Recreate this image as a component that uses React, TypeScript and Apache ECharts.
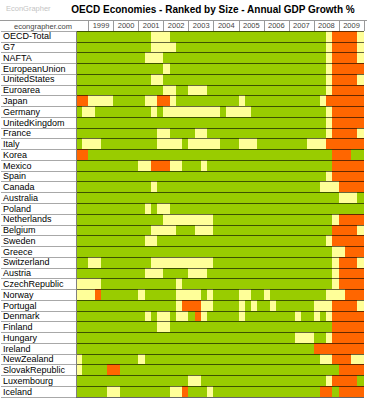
import React, { useEffect, useRef } from "react";
import * as echarts from "echarts";

const countries = [
  "OECD-Total", "G7", "NAFTA", "EuropeanUnion", "UnitedStates", "Euroarea",
  "Japan", "Germany", "UnitedKingdom", "France", "Italy", "Korea", "Mexico",
  "Spain", "Canada", "Australia", "Poland", "Netherlands", "Belgium", "Sweden",
  "Greece", "Switzerland", "Austria", "CzechRepublic", "Norway", "Portugal",
  "Denmark", "Finland", "Hungary", "Ireland", "NewZealand", "SlovakRepublic",
  "Luxembourg", "Iceland",
];

const years = [1999, 2000, 2001, 2002, 2003, 2004, 2005, 2006, 2007, 2008, 2009];

// quarters shown: 1998Q3 .. 2009Q4
const quarters: string[] = [];
for (let y = 1998; y <= 2009; y++) {
  for (let q = 1; q <= 4; q++) {
    if (y === 1998 && q < 3) continue;
    quarters.push(`${y}Q${q}`);
  }
}

// Growth band per quarter, run-length per country (G = growth, Y = weak growth, O = contraction)
const growthBandRuns = [
  "12G 3Y 25G 1Y 4O 1Y",
  "12G 4Y 24G 1Y 4O 1Y",
  "11G 3Y 26G 1Y 4O 1Y",
  "14G 1Y 25G 1Y 5O",
  "12G 2Y 26G 1Y 4O 1Y",
  "14G 2Y 2G 3Y 19G 1Y 5O",
  "2O 4Y 5G 2Y 2O 1Y 10G 1Y 12G 1Y 6O",
  "1G 2Y 9G 1Y 1G 9Y 1G 4Y 12G 1Y 5O",
  "40G 1Y 5O",
  "13G 2Y 4G 2Y 19G 1Y 4O 1Y",
  "1G 3Y 9G 4Y 1G 5Y 3G 3Y 8G 3Y 6O",
  "2O 39G 3O 2G",
  "10G 2Y 3O 2Y 3G 1Y 20G 5O",
  "40G 1Y 5O",
  "12G 1Y 26G 3Y 4O",
  "42G 3Y 1G",
  "11G 1Y 1G 2Y 31G",
  "14G 8Y 19G 1Y 4O",
  "12G 4Y 3G 3Y 19G 4O 1Y",
  "11G 2Y 27G 1Y 5O",
  "41G 2Y 3O",
  "2G 2Y 8G 10Y 19G 1Y 3O 1Y",
  "11G 3Y 4G 3Y 20G 1Y 4O",
  "4Y 12G 1Y 24G 1Y 4O",
  "3Y 1O 6G 1Y 5G 4Y 1G 1Y 4G 2Y 2G 1Y 9G 3Y 3O",
  "16G 1Y 3O 2Y 4G 1Y 1G 1Y 2G 1Y 6G 3Y 4O 1Y",
  "11G 1Y 1G 2Y 1G 2Y 1G 1O 1Y 5G 1Y 8G 1Y 2G 1Y 1G 1Y 5O",
  "13G 2Y 26G 5O",
  "35G 3Y 2G 1Y 5O",
  "38G 8O",
  "1Y 9G 1Y 28G 2Y 3O 2Y",
  "1Y 4G 2O 35G 4O",
  "18G 2Y 20G 1Y 4O 1G",
  "5G 2Y 8G 2Y 1O 3G 1Y 17G 2O 1G 4O",
];

const bandLevels: Record<string, number> = { O: 0, Y: 1, G: 2 };
const bandColors = ["#FF6600", "#FFFF99", "#99CC00"];

function expandRuns(runs: string): number[] {
  const out: number[] = [];
  const re = /(\d+)([GYO])/g;
  let m: RegExpExecArray | null;
  while ((m = re.exec(runs))) {
    for (let i = 0; i < parseInt(m[1], 10); i++) out.push(bandLevels[m[2]]);
  }
  return out;
}

export default function App() {
  const ref = useRef<HTMLDivElement>(null);

  useEffect(() => {
    if (!ref.current) return;
    const chart = echarts.init(ref.current, undefined, { renderer: "svg" });

    const data: number[][] = [];
    growthBandRuns.forEach((runs, r) => {
      expandRuns(runs).forEach((v, c) => data.push([c, r, v]));
    });

    const font = "Arial, 'Liberation Sans', sans-serif";

    chart.setOption({
      animation: false,
      backgroundColor: "#ffffff",
      grid: { left: 75, right: 0, top: 31, bottom: 3, containLabel: false },
      xAxis: [
        {
          type: "category",
          data: quarters,
          position: "top",
          axisLine: { show: false },
          axisLabel: { show: false },
          splitLine: { show: false },
          axisTick: {
            show: true,
            inside: false,
            length: 11,
            interval: (i: number) => i % 4 === 2,
            lineStyle: { color: "#9a9a9a", width: 1 },
          },
        },
        {
          type: "value",
          position: "top",
          min: 1998.5,
          max: 2010,
          interval: 1,
          axisLine: { show: false },
          axisTick: { show: false },
          splitLine: { show: false },
          axisLabel: {
            show: true,
            margin: 2,
            fontSize: 7.5,
            fontFamily: font,
            color: "#444",
            formatter: (v: number) => {
              const y = Math.floor(v);
              return v - y === 0.5 && years.indexOf(y) >= 0 ? String(y) : "";
            },
          },
        },
      ],
      yAxis: {
        type: "category",
        data: countries,
        inverse: true,
        z: 5,
        axisLine: { show: true, lineStyle: { color: "#808080", width: 1 } },
        axisTick: {
          show: true,
          interval: 0,
          length: 75,
          lineStyle: { color: "#a8a8a8", width: 1 },
        },
        splitLine: {
          show: true,
          interval: 0,
          lineStyle: { color: "rgba(0,0,0,0.6)", width: 1 },
        },
        axisLabel: {
          interval: 0,
          align: "left",
          margin: 73,
          fontSize: 9,
          fontFamily: font,
          color: "#000",
        },
      },
      visualMap: {
        type: "piecewise",
        show: false,
        dimension: 2,
        pieces: [
          { value: 0, color: bandColors[0] },
          { value: 1, color: bandColors[1] },
          { value: 2, color: bandColors[2] },
        ],
      },
      series: [
        {
          type: "heatmap",
          xAxisIndex: 0,
          yAxisIndex: 0,
          data,
          progressive: 0,
          itemStyle: { borderWidth: 0 },
          emphasis: { disabled: true },
        },
      ],
      graphic: [
        {
          type: "text",
          left: 6,
          top: 4,
          style: { text: "EconGrapher", fontSize: 7.5, fontFamily: font, fill: "#c4c4c4" },
        },
        {
          type: "text",
          x: 213,
          y: 9,
          style: {
            text: "OECD Economies - Ranked by Size - Annual GDP Growth %",
            fontSize: 10,
            fontWeight: "bold",
            fontFamily: font,
            fill: "#000",
            align: "center",
            verticalAlign: "middle",
          },
        },
        {
          type: "line",
          shape: { x1: 0, y1: 20.5, x2: 367, y2: 20.5 },
          style: { stroke: "#9a9a9a", lineWidth: 1 },
        },
        {
          type: "text",
          x: 43,
          y: 26,
          style: {
            text: "econgrapher.com",
            fontSize: 7.5,
            fontFamily: font,
            fill: "#444",
            align: "center",
            verticalAlign: "middle",
          },
        },
      ],
    });

    return () => chart.dispose();
  }, []);

  return (
    <>
      <style>{"#econ-chart svg path { shape-rendering: crispEdges; }"}</style>
      <div
        id="econ-chart"
        ref={ref}
        style={{ position: "fixed", left: 0, top: 0, width: 367, height: 400 }}
      />
    </>
  );
}
